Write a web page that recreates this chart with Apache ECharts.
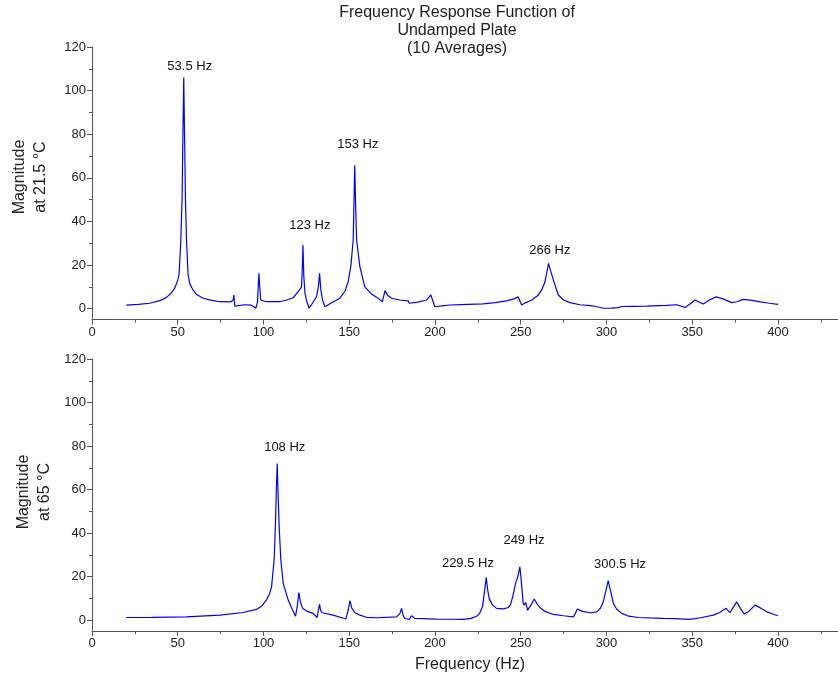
<!DOCTYPE html>
<html>
<head>
<meta charset="utf-8">
<script src="https://cdn.jsdelivr.net/npm/echarts@6/dist/echarts.min.js"></script>
<style>html,body{margin:0;padding:0;background:#fff}#c{width:838px;height:677px}</style>
</head>
<body>
<div id="c"></div>
<script>
// ---- data ----
const freqTop = [20,27,33.7,40,43.4,46,48.2,50,50.8,51.8,52.5,53,53.5,54,54.5,55.1,56,57,58.9,61,64.8,70,74.5,80.9,82.3,82.7,83.3,89.1,93,95.5,96.5,97.3,98,98.4,101.7,109.5,113.4,117.3,120.2,122.2,122.6,123,123.5,124.2,125,126.6,128.5,130.9,132,132.7,133.4,134.4,135.8,140,144.5,147.5,149.4,151,152.3,152.8,153.2,153.8,154.3,156.2,159.1,163,165.9,169.4,170.8,172.5,174.7,179.5,184.4,185,190,195.1,197.6,199.9,204,208.7,215,228.1,235,241.8,246,248.5,250.5,253,256.4,260,262.2,264,265.1,266.2,267.2,269,271.9,275,278.7,284.5,290.4,294,298.1,303,306.9,307.5,308.9,315,323.5,335,341,345.8,348.5,351.6,353.5,356.5,360,363.9,368,373,376,379.8,385,389.6,395,400];
const magTop = [1.6,2.0,2.5,3.8,5.2,7,9.3,13,16,31.5,50,78,106,78,50,31.5,16,11.5,8.6,6.5,4.8,3.8,3.2,3.1,4,6.3,1.2,1.8,1.6,0.2,3,16.2,8,4,3.2,3.2,4,5,7.8,10,18,29.2,15,7,4,0.2,2.5,5.5,10,16.2,9,4,0.9,2.8,4.8,8,12.4,20,31.5,50,65.8,45,31.5,19.3,10,6.7,5.3,3.2,8.3,6,4.8,4,3.6,2.5,3,4,6.3,0.9,1.3,1.7,1.9,2.2,2.8,3.6,4.5,5.5,1.7,2.8,4,6,8.6,12,16.2,20.8,18,13.2,6.3,4,2.8,1.8,1.4,1,0.2,0.3,0.5,0.1,1,1.1,1.2,1.5,1.8,0.6,2,4,3.2,2.2,4,5.4,4.5,2.8,3.2,4.3,3.8,3.1,2.5,2];

const freqBottom = [20,35,55,74.5,88.1,95.9,99,101.7,103.5,104.7,106.2,107,107.5,108,108.5,109.2,110.1,111.5,114.4,116.5,118.7,119.8,120.6,121.5,122.8,125.5,128.9,131.3,132.1,132.7,133.3,134.2,140.6,148,149.5,150.4,151.5,153.3,156.2,160,165.9,177.6,179.5,180.5,181.5,182.4,185,186.3,188.3,200.9,210,216.5,221,224.3,226,227.8,229,229.9,230.7,231.6,233.5,235.9,240,242.7,244,245.3,246.2,247,247.8,248.3,249.5,250.2,250.7,251.4,251.9,252.9,254,254.4,256,257.9,259.5,261.2,264,269,275,280.6,281.5,283,286,290.4,294.3,296.5,298.1,299.5,301,302.5,304,306,308.9,313,318.6,325,333.1,340,348.7,355,362.3,366,369.7,372,374,375.9,378,380.2,383,386.6,390,393.5,397,400];
const magBottom = [1.2,1.3,1.5,2.3,3.5,4.9,6.5,9.2,12,15.3,27.6,45,60,72,58,42,27.6,16.9,9.2,5.5,1.8,7,12.7,8.5,5.4,4,3.1,1.2,5,7.2,4.5,3.4,2.3,0.5,5,8.9,5.5,3.4,2.3,1.3,1.1,1.5,3,5.4,2,0.8,0.3,2,0.8,0.5,0.4,0.3,0.8,1.8,3,6.4,14,19.6,14,10,7,5.4,5.2,5.8,7,10.7,11,16.9,17,20,24.5,19,14.6,8,6.9,8.1,4.5,3.8,7,9.7,7.5,5.8,4,2.6,2,1.5,2.5,5.1,4,3.4,3.8,5.5,8.4,13,18.1,13,7.7,5,3.1,1.8,1.2,1.0,0.8,0.7,0.3,1.1,2.3,3.5,5.4,3.4,6,8.4,5.5,2.8,4,6.9,5.5,3.8,2.8,2];

const labelsTop = ['53.5 Hz','123 Hz','153 Hz','266 Hz'];
const labelTopX = [57,127,155,267];
const labelTopY = [111.3,38.4,75.5,26.9];
const labelsBottom = ['108 Hz','229.5 Hz','249 Hz','300.5 Hz'];
const labelBottomX = [112.4,219.2,251.9,307.9];
const labelBottomY = [79.5,26.2,36.8,25.7];

const xMajor = [0,50,100,150,200,250,300,350,400];
const xMinor = [25,75,125,175,225,275,325,375,425];
const yMajor = [0,20,40,60,80,100,120];
const yMinor = [10,30,50,70,90,110];

const titleLines = ['Frequency Response Function of','Undamped Plate','(10 Averages)'];
const yNameTop = ['Magnitude','at 21.5 °C'];
const yNameBottom = ['Magnitude','at 65 °C'];
const xName = 'Frequency (Hz)';

// ---- chart ----
const FONT = '"Liberation Sans", Arial, sans-serif';
const AX = '#555';
const TXT = '#222';
const chart = echarts.init(document.getElementById('c'), null, {renderer:'canvas'});

function xAxes(g){
  return [
    {gridIndex:g, type:'value', position:'bottom', min:0, max:435,
     axisLine:{show:true, onZero:false, lineStyle:{color:AX, width:1}},
     axisTick:{show:true, customValues:xMajor, length:5, lineStyle:{color:AX}},
     axisLabel:{show:true, customValues:xMajor, fontSize:13, color:TXT, fontFamily:FONT, margin:6},
     splitLine:{show:false}},
    {gridIndex:g, type:'value', position:'bottom', min:0, max:435,
     axisLine:{show:false, onZero:false},
     axisTick:{show:true, customValues:xMinor, length:3, lineStyle:{color:AX}},
     axisLabel:{show:false}, splitLine:{show:false}}
  ];
}
function yAxes(g){
  return [
    {gridIndex:g, type:'value', position:'left', min:-5, max:120,
     axisLine:{show:true, onZero:false, lineStyle:{color:AX, width:1}},
     axisTick:{show:true, customValues:yMajor, length:5, lineStyle:{color:AX}},
     axisLabel:{show:true, customValues:yMajor, fontSize:13, color:TXT, fontFamily:FONT, margin:6},
     splitLine:{show:false}},
    {gridIndex:g, type:'value', position:'left', offset:0, min:-5, max:120,
     axisLine:{show:false, onZero:false},
     axisTick:{show:true, customValues:yMinor, length:3, lineStyle:{color:AX}},
     axisLabel:{show:false}, splitLine:{show:false}}
  ];
}

function lineData(f, m){ return f.map((x,i)=>[x, m[i]]); }
function labData(names, xs, ys){ return names.map((n,i)=>({name:n, value:[xs[i], ys[i]]})); }

const labelStyle = {show:true, position:'inside', formatter:p=>p.name, fontSize:13, color:'#111', fontFamily:FONT, opacity:1};

chart.setOption({
  animation:false,
  backgroundColor:'#fff',
  grid:[
    {left:92, width:746, top:47, height:272.6},
    {left:92, width:746, top:359, height:272}
  ],
  xAxis:[...xAxes(0), ...xAxes(1)],
  yAxis:[...yAxes(0), ...yAxes(1)],
  series:[
    {type:'line', xAxisIndex:0, yAxisIndex:0, data:lineData(freqTop, magTop), showSymbol:false, symbol:'none',
     lineStyle:{color:'#0000ff', width:1.2}, silent:true},
    {type:'line', xAxisIndex:2, yAxisIndex:2, data:lineData(freqBottom, magBottom), showSymbol:false, symbol:'none',
     lineStyle:{color:'#0000ff', width:1.2}, silent:true},
    {type:'scatter', xAxisIndex:0, yAxisIndex:0, data:labData(labelsTop, labelTopX, labelTopY), symbolSize:0,
     itemStyle:{opacity:1}, label:labelStyle, silent:true},
    {type:'scatter', xAxisIndex:2, yAxisIndex:2, data:labData(labelsBottom, labelBottomX, labelBottomY), symbolSize:0,
     itemStyle:{opacity:1}, label:labelStyle, silent:true}
  ],
  graphic:[
    {type:'text', x:457, y:4, style:{text:titleLines.join('\n'), textAlign:'center', textVerticalAlign:'top',
      font:'16px '+FONT, lineHeight:18, fill:TXT}},
    {type:'text', x:30, y:177, rotation:Math.PI/2, style:{text:yNameTop.join('\n'), textAlign:'center', textVerticalAlign:'middle',
      font:'16px '+FONT, lineHeight:21, fill:TXT}},
    {type:'text', x:34, y:492, rotation:Math.PI/2, style:{text:yNameBottom.join('\n'), textAlign:'center', textVerticalAlign:'middle',
      font:'16px '+FONT, lineHeight:21, fill:TXT}},
    {type:'text', x:470, y:665, style:{text:xName, textAlign:'center', textVerticalAlign:'middle',
      font:'16px '+FONT, fill:TXT}}
  ]
});
</script>
</body>
</html>
